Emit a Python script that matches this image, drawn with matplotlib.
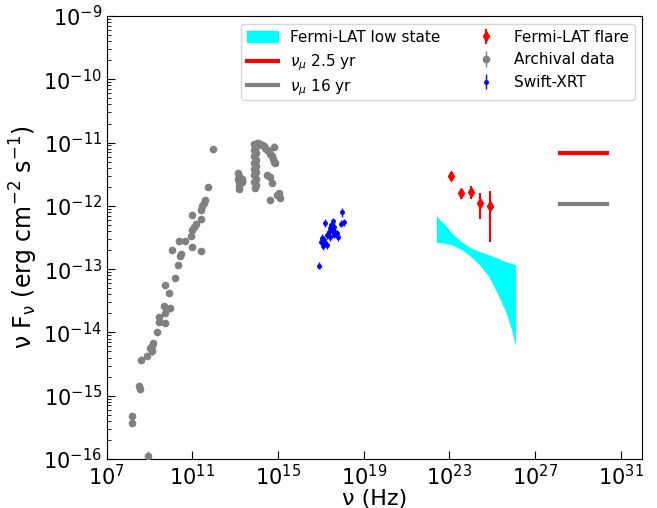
import numpy as np
import matplotlib
matplotlib.use("Agg")
import matplotlib.pyplot as plt
from matplotlib.patches import Patch
from matplotlib.lines import Line2D
from matplotlib.ticker import NullLocator, LogLocator
from matplotlib.transforms import Bbox

# ---------------- data (log10 nu [Hz], log10 nuFnu [erg cm^-2 s^-1]) ----------------
# Archival multiwavelength data: radio -> optical/UV
arch_lognu = [8.94, 8.18, 8.18, 8.51, 8.54, 8.62, 8.88, 9.02, 9.10, 9.18, 9.13, 9.36,
              9.44, 9.44, 9.71, 9.71, 9.68, 9.94, 9.91, 9.71, 10.19, 10.35, 10.42,
              10.49, 10.38, 10.03, 10.66, 10.92, 11.00, 11.08, 11.16, 10.97, 11.00,
              11.39, 11.39, 11.39, 11.47, 11.55, 11.59, 11.73, 11.95,
              # mid-IR cluster
              13.15, 13.17, 13.15, 13.18, 13.16, 13.19, 13.30, 13.33, 13.31,
              # near-IR / optical monitoring column
              13.88, 13.95, 13.88, 13.95, 13.88, 13.95, 13.88, 13.95, 13.88, 13.95,
              13.88, 13.95, 13.88, 13.95, 13.90,
              # optical-UV arc
              14.00, 14.08, 14.16, 14.24, 14.32, 14.40, 14.48, 14.56, 14.64, 14.71,
              14.77, 14.83,
              # UV scatter
              14.79, 14.87, 14.48, 14.60, 14.71, 14.94, 15.05, 15.10, 14.63]
arch_logflux = [-15.96, -15.32, -15.43, -14.84, -14.90, -14.43, -14.38, -14.25, -14.30,
                -14.16, -14.22, -14.00, -13.83, -13.75, -13.85, -13.70, -13.58, -13.62,
                -13.38, -13.25, -13.14, -12.93, -12.80, -12.76, -12.55, -12.70, -12.56,
                -12.48, -12.38, -12.33, -12.28, -12.14, -12.65, -12.72, -12.21, -12.06,
                -12.01, -11.95, -11.90, -11.70, -11.105,
                -11.48, -11.53, -11.58, -11.63, -11.68, -11.73, -11.58, -11.63, -11.60,
                -11.02, -11.07, -11.12, -11.17, -11.22, -11.27, -11.32, -11.37, -11.42,
                -11.47, -11.52, -11.57, -11.62, -11.67, -11.72,
                -11.00, -11.01, -11.02, -11.04, -11.06, -11.08, -11.11, -11.14, -11.18,
                -11.22, -11.26, -11.30,
                -11.065, -11.33, -11.51, -11.55, -11.64, -11.83, -11.80, -11.88, -11.91]
arch_logerr = [0.08, 0.04, 0.03, 0.04, 0.03, 0.05, 0.04, 0.05, 0.05, 0.04, 0.03, 0.03,
               0.04, 0.04, 0.05, 0.04, 0.04, 0.05, 0.05, 0.03, 0.03, 0.03, 0.04, 0.05,
               0.03, 0.03, 0.05, 0.03, 0.03, 0.03, 0.03, 0.03, 0.03, 0.03, 0.04, 0.05,
               0.04, 0.06, 0.03, 0.03, 0.03,
               0.05, 0.03, 0.03, 0.03, 0.03, 0.05, 0.03, 0.03, 0.03,
               0.03, 0.03, 0.03, 0.03, 0.03, 0.03, 0.03, 0.03, 0.03, 0.03, 0.03, 0.03,
               0.03, 0.03, 0.03,
               0.02, 0.02, 0.02, 0.02, 0.02, 0.02, 0.02, 0.02, 0.02, 0.02, 0.02, 0.02,
               0.06, 0.03, 0.03, 0.03, 0.03, 0.03, 0.03, 0.03, 0.03]

# Swift-XRT
xrt_lognu = [16.92, 17.995, 18.10, 17.93, 17.20, 17.56, 17.59, 17.51, 17.43, 17.67,
             17.36, 17.28, 17.40, 17.82, 17.05, 17.12, 17.00, 17.15, 17.28, 17.09,
             17.75, 17.59, 17.47]
xrt_logflux = [-12.945, -12.10, -12.26, -12.28, -12.275, -12.24, -12.33, -12.38,
               -12.355, -12.41, -12.42, -12.46, -12.49, -12.50, -12.51, -12.54, -12.565,
               -12.59, -12.62, -12.63, -12.43, -12.46, -12.30]
xrt_logerr = [0.06, 0.07, 0.06, 0.06, 0.06, 0.05, 0.06, 0.06, 0.05, 0.05, 0.06, 0.06,
              0.06, 0.05, 0.06, 0.06, 0.06, 0.06, 0.06, 0.06, 0.05, 0.05, 0.05]

# Fermi-LAT flare spectrum
flare_nu = [1.17e23, 3.3e23, 9.8e23, 2.75e24, 8.1e24]
flare_flux = [3.0e-12, 1.58e-12, 1.68e-12, 1.12e-12, 1.0e-12]
flare_lo = [2.65e-12, 1.27e-12, 1.27e-12, 6.3e-13, 2.66e-13]
flare_hi = [3.4e-12, 1.83e-12, 2.06e-12, 1.58e-12, 1.74e-12]

# Fermi-LAT low-state butterfly (upper and lower bounds)
bowtie_lognu = [22.39, 22.8, 23.2, 23.6, 24.0, 24.4, 24.8, 25.2, 25.6, 25.9, 26.08]
bowtie_logup = [-12.16, -12.30, -12.46, -12.575, -12.665, -12.72, -12.77, -12.82,
                -12.88, -12.91, -12.934]
bowtie_loglo = [-12.58, -12.59, -12.63, -12.70, -12.80, -12.93, -13.10, -13.36,
                -13.65, -13.96, -14.20]

# Neutrino flux levels
nu_band = [1.5e28, 2.3e30]
numu_25yr = 6.8e-12
numu_16yr = 1.06e-12

# ---------------- figure ----------------
fig = plt.figure(figsize=(6.57, 5.08), dpi=100)
ax = fig.add_axes([0.1624, 0.0965, 0.8152, 0.872])

ax.fill_between(10 ** np.array(bowtie_lognu), 10 ** np.array(bowtie_loglo),
                10 ** np.array(bowtie_logup), color="cyan", lw=0, zorder=2)

ax.plot(nu_band, [numu_25yr] * 2, color="red", lw=3, zorder=3)
ax.plot(nu_band, [numu_16yr] * 2, color="grey", lw=3, zorder=3)

ff = np.array(flare_flux)
eb_flare = ax.errorbar(flare_nu, ff,
                       yerr=[ff - np.array(flare_lo), np.array(flare_hi) - ff],
                       fmt="d", color="red", ms=5, elinewidth=1.5, capsize=0, zorder=5)

af = 10 ** np.array(arch_logflux)
ae = np.array(arch_logerr)
eb_arch = ax.errorbar(10 ** np.array(arch_lognu), af,
                      yerr=[af * (1 - 10 ** -ae), af * (10 ** ae - 1)],
                      fmt="o", color="grey", ms=4.5, elinewidth=1, capsize=0, zorder=4)

xf = 10 ** np.array(xrt_logflux)
xe = np.array(xrt_logerr)
eb_xrt = ax.errorbar(10 ** np.array(xrt_lognu), xf,
                     yerr=[xf * (1 - 10 ** -xe), xf * (10 ** xe - 1)],
                     fmt="o", color="blue", ms=2.5, elinewidth=1, capsize=0, zorder=4)

ax.set_xscale("log")
ax.set_yscale("log")
ax.set_xlim(1e7, 1e32)
ax.set_ylim(1e-16, 1e-9)
ax.set_xticks([10.0 ** k for k in range(7, 32, 4)])
ax.xaxis.set_minor_locator(NullLocator())
ax.yaxis.set_major_locator(LogLocator(base=10, numticks=20))
ax.tick_params(which="both", direction="in", labelsize=15)
ax.tick_params(which="major", length=6)
ax.tick_params(which="minor", length=3)

ax.set_xlabel("ν (Hz)", fontsize=16, labelpad=0)
ax.set_ylabel("ν F$_{\\mathrm{ν}}$ (erg cm$^{-2}$ s$^{-1}$)", fontsize=17, labelpad=2)

handles = [Patch(color="cyan"),
           Line2D([], [], color="red", lw=3),
           Line2D([], [], color="grey", lw=3),
           eb_flare, eb_arch, eb_xrt]
labels = ["Fermi-LAT low state", "$\\nu_\\mu$ 2.5 yr", "$\\nu_\\mu$ 16 yr",
          "Fermi-LAT flare", "Archival data", "Swift-XRT"]
leg = ax.legend(handles, labels, ncol=2, fontsize=11, loc="upper right")


# keep legend rows evenly spaced: ignore the extra depth of math subscripts
def _row_bbox(renderer, _area, _base):
    bb = _base(renderer)
    _, _, d_ref = renderer.get_text_width_height_descent(
        "lp", _area._text.get_fontproperties(), ismath=False)
    if -bb.y0 > d_ref:
        return Bbox.from_bounds(bb.x0, -d_ref, bb.width, bb.y1 + d_ref)
    return bb


for column in leg._legend_handle_box.get_children():
    for item in column.get_children():
        area = item.get_children()[-1]
        base = area.get_bbox
        area.get_bbox = (lambda r, a=area, b=base: _row_bbox(r, a, b))

fig.savefig("out.png", dpi=100)
